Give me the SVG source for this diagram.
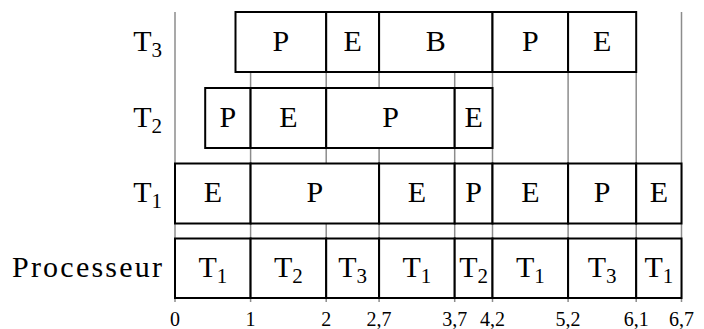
<svg xmlns="http://www.w3.org/2000/svg" width="704" height="329" viewBox="0 0 704 329">
<style>
.c{fill:#fff;stroke:#000;stroke-width:2}
.t{font-family:"Liberation Serif","DejaVu Serif",serif;font-size:30px;fill:#000;text-anchor:middle}
.l{font-family:"Liberation Serif","DejaVu Serif",serif;font-size:30px;fill:#000;text-anchor:end}
.s{font-size:21px;baseline-shift:-6px}
.k{font-family:"Liberation Serif","DejaVu Serif",serif;font-size:20px;fill:#000;text-anchor:middle}
.g{stroke:#8c8c8c;stroke-width:1.5;fill:none}
</style>
<rect width="704" height="329" fill="#fff"/>
<g id="grid" class="g">
<line x1="175" y1="12" x2="175" y2="302"/>
<line x1="250.6" y1="12" x2="250.6" y2="302"/>
<line x1="326.2" y1="12" x2="326.2" y2="302"/>
<line x1="379.1" y1="12" x2="379.1" y2="302"/>
<line x1="454.7" y1="12" x2="454.7" y2="302"/>
<line x1="492.5" y1="12" x2="492.5" y2="302"/>
<line x1="568.1" y1="12" x2="568.1" y2="302"/>
<line x1="636.2" y1="12" x2="636.2" y2="302"/>
<line x1="681.5" y1="12" x2="681.5" y2="302"/>
</g>
<g id="labels">
<text class="l" x="162" y="51">T<tspan class="s">3</tspan></text>
<text class="l" x="162" y="127">T<tspan class="s">2</tspan></text>
<text class="l" x="162" y="202">T<tspan class="s">1</tspan></text>
<text class="l" x="162" y="277" textLength="150" lengthAdjust="spacing">Processeur</text>
</g>
<g id="T3">
<g id="t3a"><rect class="c" x="235.5" y="12" width="90.7" height="60"/><text class="t" x="280.9" y="51">P</text></g>
<g id="t3b"><rect class="c" x="326.2" y="12" width="52.9" height="60"/><text class="t" x="352.7" y="51">E</text></g>
<g id="t3c"><rect class="c" x="379.1" y="12" width="113.4" height="60"/><text class="t" x="435.8" y="51">B</text></g>
<g id="t3d"><rect class="c" x="492.5" y="12" width="75.6" height="60"/><text class="t" x="530.3" y="51">P</text></g>
<g id="t3e"><rect class="c" x="568.1" y="12" width="68.1" height="60"/><text class="t" x="602.2" y="51">E</text></g>
</g>
<g id="T2">
<g id="t2a"><rect class="c" x="205.2" y="88" width="45.4" height="60"/><text class="t" x="227.9" y="127">P</text></g>
<g id="t2b"><rect class="c" x="250.6" y="88" width="75.6" height="60"/><text class="t" x="288.4" y="127">E</text></g>
<g id="t2c"><rect class="c" x="326.2" y="88" width="128.5" height="60"/><text class="t" x="390.5" y="127">P</text></g>
<g id="t2d"><rect class="c" x="454.7" y="88" width="37.8" height="60"/><text class="t" x="473.6" y="127">E</text></g>
</g>
<g id="T1">
<g id="t1a"><rect class="c" x="175" y="163.5" width="75.6" height="60"/><text class="t" x="212.8" y="202">E</text></g>
<g id="t1b"><rect class="c" x="250.6" y="163.5" width="128.5" height="60"/><text class="t" x="314.9" y="202">P</text></g>
<g id="t1c"><rect class="c" x="379.1" y="163.5" width="75.6" height="60"/><text class="t" x="416.9" y="202">E</text></g>
<g id="t1d"><rect class="c" x="454.7" y="163.5" width="37.8" height="60"/><text class="t" x="473.6" y="202">P</text></g>
<g id="t1e"><rect class="c" x="492.5" y="163.5" width="75.6" height="60"/><text class="t" x="530.3" y="202">E</text></g>
<g id="t1f"><rect class="c" x="568.1" y="163.5" width="68.1" height="60"/><text class="t" x="602.2" y="202">P</text></g>
<g id="t1g"><rect class="c" x="636.2" y="163.5" width="45.3" height="60"/><text class="t" x="658.9" y="202">E</text></g>
</g>
<g id="Proc">
<g id="pa"><rect class="c" x="175" y="238.5" width="75.6" height="59.5"/><text class="t" x="212.8" y="277">T<tspan class="s">1</tspan></text></g>
<g id="pb"><rect class="c" x="250.6" y="238.5" width="75.6" height="59.5"/><text class="t" x="288.4" y="277">T<tspan class="s">2</tspan></text></g>
<g id="pc"><rect class="c" x="326.2" y="238.5" width="52.9" height="59.5"/><text class="t" x="352.7" y="277">T<tspan class="s">3</tspan></text></g>
<g id="pd"><rect class="c" x="379.1" y="238.5" width="75.6" height="59.5"/><text class="t" x="416.9" y="277">T<tspan class="s">1</tspan></text></g>
<g id="pe"><rect class="c" x="454.7" y="238.5" width="37.8" height="59.5"/><text class="t" x="473.6" y="277">T<tspan class="s">2</tspan></text></g>
<g id="pf"><rect class="c" x="492.5" y="238.5" width="75.6" height="59.5"/><text class="t" x="530.3" y="277">T<tspan class="s">1</tspan></text></g>
<g id="pg"><rect class="c" x="568.1" y="238.5" width="68.1" height="59.5"/><text class="t" x="602.2" y="277">T<tspan class="s">3</tspan></text></g>
<g id="ph"><rect class="c" x="636.2" y="238.5" width="45.3" height="59.5"/><text class="t" x="658.9" y="277">T<tspan class="s">1</tspan></text></g>
</g>
<g id="ticks">
<text class="k" x="175" y="326">0</text>
<text class="k" x="250.6" y="326">1</text>
<text class="k" x="326.2" y="326">2</text>
<text class="k" x="379.1" y="326">2,7</text>
<text class="k" x="454.7" y="326">3,7</text>
<text class="k" x="492.5" y="326">4,2</text>
<text class="k" x="568.1" y="326">5,2</text>
<text class="k" x="636.2" y="326">6,1</text>
<text class="k" x="681.5" y="326">6,7</text>
</g>
</svg>
